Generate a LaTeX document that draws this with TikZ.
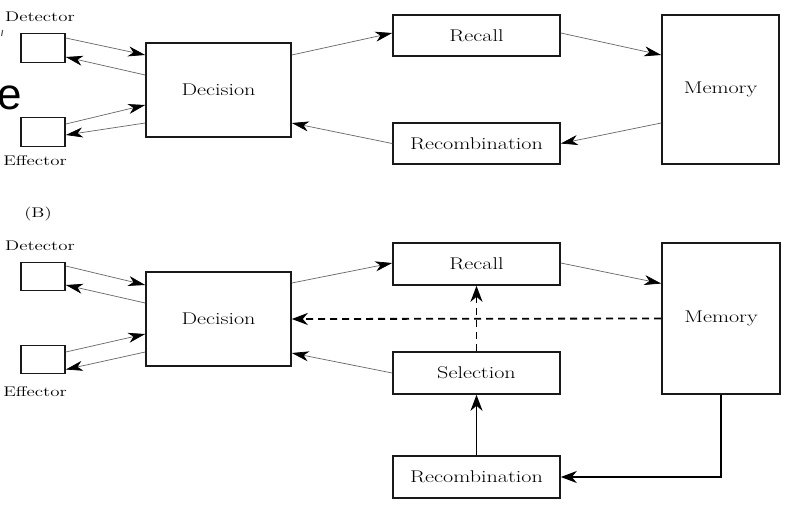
\documentclass[tikz,border=0pt]{standalone}
\usepackage{fontspec}
\usepackage{graphicx}
\usetikzlibrary{arrows.meta}
\newfontfamily\bigsans{Liberation Sans}
\newcommand{\sx}[1]{\scalebox{1.3}[1]{#1}}
\newcommand{\sxl}[1]{\scalebox{1.35}[1]{#1}}
\tikzset{
  blk/.style={draw=black!90, line width=1.6pt, fill=white, inner sep=0pt,
    font=\fontsize{17}{20}\selectfont},
  lbl/.style={inner sep=0pt, font=\fontsize{14}{16}\selectfont},
  thn/.style={draw=black!60, line width=0.7pt,
    -{Stealth[length=17pt,width=10pt,inset=5pt,color=black]}},
  thk/.style={draw=black, line width=1.8pt,
    -{Stealth[length=16pt,width=12pt,inset=5pt]}},
  dsh/.style={thk, dash pattern=on 7pt off 5pt}
}
\begin{document}
\begin{tikzpicture}[x=1pt,y=-1pt]
\useasboundingbox[fill=white] (0,0) rectangle (794,514);
% artefacts at the left edge
\node[anchor=base west, inner sep=0pt, font=\bigsans\fontsize{44}{44}\selectfont] (bige) at (-3,109) {e};
\draw[black!70, line width=1.1pt] (2.6,30) -- (1.6,36);

% ---------- (A) ----------
\node[lbl] (ldetA) at (40,17) {\sxl{Detector}};
\node[lbl] (leffA) at (35,161) {\sxl{Effector}};
\node[blk, minimum width=44pt, minimum height=29pt] (detA) at (43,48) {};
\node[blk, minimum width=44pt, minimum height=29pt] (effA) at (43,132) {};
\node[blk, minimum width=145pt, minimum height=94pt] (decA) at (218.5,90) {\sx{Decision}};
\node[blk, minimum width=167pt, minimum height=41pt] (recA) at (476.5,35.5) {\sx{Recall}};
\node[blk, minimum width=167pt, minimum height=41pt] (rcbA) at (476.5,143.5) {\sx{Recombination}};
\node[blk, minimum width=117pt, minimum height=149pt] (memA) at (720.5,89.5) {\sx{Memory}};

\draw[thn] ([yshift=10pt]detA.east) -- ([yshift=35pt]decA.west);
\draw[thn] ([yshift=15pt]decA.west) -- ([yshift=-9pt]detA.east);
\draw[thn] ([yshift=8pt]effA.east) -- ([yshift=-15pt]decA.west);
\draw[thn] ([yshift=-33pt]decA.west) -- ([yshift=-3pt]effA.east);
\draw[thn] ([yshift=35pt]decA.east) -- ([yshift=2.5pt]recA.west);
\draw[thn] ([yshift=2.5pt]recA.east) -- ([yshift=34.5pt]memA.west);
\draw[thn] ([yshift=-33.5pt]memA.west) -- (rcbA.east);
\draw[thn] (rcbA.west) -- ([yshift=-33pt]decA.east);

% ---------- (B) ----------
\node[lbl] (lB) at (38,214) {\sxl{(B)}};
\node[lbl] (ldetB) at (40,246) {\sxl{Detector}};
\node[lbl] (leffB) at (35,392) {\sxl{Effector}};
\node[blk, minimum width=44pt, minimum height=28pt] (detB) at (43,276.5) {};
\node[blk, minimum width=44pt, minimum height=28pt] (effB) at (43,359.5) {};
\node[blk, minimum width=145pt, minimum height=94pt] (decB) at (218.5,319) {\sx{Decision}};
\node[blk, minimum width=167pt, minimum height=42pt] (recB) at (476.5,264) {\sx{Recall}};
\node[blk, minimum width=167pt, minimum height=42pt] (selB) at (476.5,373) {\sx{Selection}};
\node[blk, minimum width=167pt, minimum height=42pt] (rcbB) at (476.5,477) {\sx{Recombination}};
\node[blk, minimum width=118pt, minimum height=151pt] (memB) at (721,318.5) {\sx{Memory}};

\draw[thn] ([yshift=10.5pt]detB.east) -- ([yshift=34pt]decB.west);
\draw[thn] ([yshift=16pt]decB.west) -- ([yshift=-8.5pt]detB.east);
\draw[thn] ([yshift=7.5pt]effB.east) -- ([yshift=-15pt]decB.west);
\draw[thn] ([yshift=-33pt]decB.west) -- ([yshift=-10pt]effB.east);
\draw[thn] ([yshift=36pt]decB.east) -- ([yshift=1pt]recB.west);
\draw[thn] ([yshift=1pt]recB.east) -- ([yshift=35pt]memB.west);
\draw[thn] (selB.west) -- ([yshift=-34pt]decB.east);
\draw[dsh] (memB.west) -- (decB.east);
\draw[dsh] (selB.north) -- (recB.south);
\draw[thk] (rcbB.north) -- (selB.south);
\draw[thk] (memB.south) |- (rcbB.east);
\end{tikzpicture}
\end{document}
